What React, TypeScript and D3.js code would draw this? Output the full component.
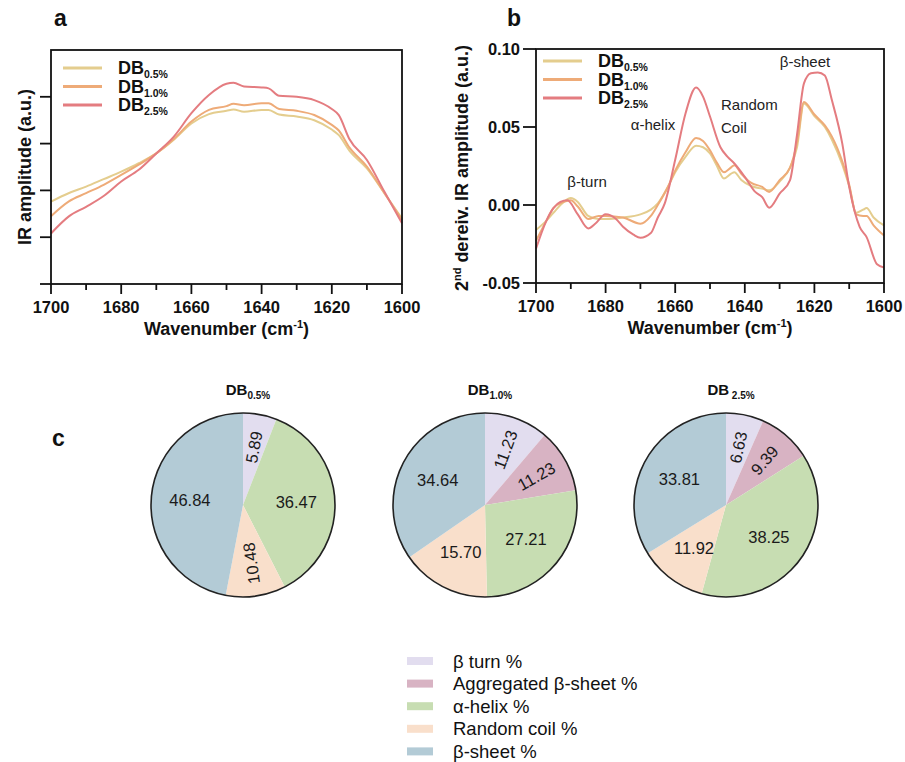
import React from "react";
import * as d3 from "d3";

const FONT = "'Liberation Sans', Arial, Helvetica, sans-serif";

// ---------- Panel a data (IR amplitude, arbitrary units) ----------
const aWave = [1700, 1695, 1690, 1685, 1680, 1675, 1670, 1665, 1660, 1655, 1650, 1648, 1645, 1640, 1638, 1635, 1630, 1625, 1620, 1618, 1615, 1610, 1605, 1600];
const aDB05 = [1.76, 1.94, 2.08, 2.24, 2.40, 2.58, 2.79, 3.08, 3.43, 3.63, 3.70, 3.73, 3.68, 3.72, 3.72, 3.62, 3.58, 3.50, 3.30, 3.18, 2.85, 2.47, 1.94, 1.40];
const aDB10 = [1.45, 1.76, 1.94, 2.12, 2.33, 2.55, 2.79, 3.10, 3.47, 3.72, 3.80, 3.85, 3.82, 3.86, 3.86, 3.74, 3.70, 3.61, 3.40, 3.28, 2.92, 2.51, 1.94, 1.37];
const aDB25 = [1.08, 1.44, 1.65, 1.88, 2.19, 2.44, 2.79, 3.15, 3.65, 4.04, 4.28, 4.30, 4.22, 4.20, 4.18, 4.02, 4.00, 3.93, 3.74, 3.61, 3.10, 2.65, 1.97, 1.30];
const aYTicks = [0, 1, 2, 3, 4];

// ---------- Panel b data (2nd derivative) ----------
const bDB05: [number, number][] = [[1700, -0.016], [1697, -0.010], [1695, -0.005], [1692, 0.002], [1690, 0.0045], [1688, 0.002], [1685, -0.007], [1682, -0.009], [1680, -0.009], [1675, -0.008], [1670, -0.006], [1667, -0.003], [1665, 0.001], [1662, 0.012], [1660, 0.021], [1657, 0.031], [1654, 0.038], [1652, 0.037], [1650, 0.033], [1648, 0.025], [1646, 0.017], [1644, 0.020], [1643, 0.021], [1641, 0.016], [1638, 0.012], [1635, 0.0105], [1633, 0.0094], [1630, 0.015], [1627, 0.024], [1625, 0.037], [1623, 0.065], [1620, 0.057], [1617, 0.050], [1615, 0.042], [1612, 0.026], [1610, 0.012], [1608, -0.005], [1606, -0.003], [1605, -0.002], [1603, -0.008], [1600, -0.013]];
const bDB10: [number, number][] = [[1700, -0.023], [1697, -0.010], [1695, -0.002], [1692, 0.002], [1690, 0.003], [1688, -0.001], [1685, -0.009], [1682, -0.007], [1680, -0.007], [1675, -0.008], [1670, -0.012], [1667, -0.007], [1665, 0.000], [1662, 0.012], [1660, 0.022], [1657, 0.034], [1654, 0.043], [1652, 0.041], [1650, 0.035], [1648, 0.027], [1646, 0.021], [1644, 0.024], [1643, 0.0255], [1641, 0.020], [1638, 0.014], [1635, 0.0116], [1633, 0.0084], [1630, 0.016], [1627, 0.024], [1625, 0.040], [1623, 0.066], [1620, 0.058], [1617, 0.051], [1615, 0.044], [1612, 0.028], [1610, 0.013], [1608, -0.006], [1606, -0.007], [1605, -0.007], [1603, -0.013], [1600, -0.0195]];
const bDB25: [number, number][] = [[1700, -0.028], [1697, -0.010], [1695, -0.002], [1693, 0.002], [1691, 0.003], [1688, -0.006], [1685, -0.015], [1683, -0.012], [1680, -0.006], [1677, -0.009], [1675, -0.014], [1672, -0.019], [1670, -0.021], [1667, -0.018], [1665, -0.008], [1663, 0.001], [1660, 0.029], [1657, 0.059], [1654, 0.0753], [1652, 0.0695], [1650, 0.0567], [1647, 0.037], [1645, 0.031], [1643, 0.0266], [1640, 0.018], [1637, 0.0084], [1635, 0.005], [1633, -0.0017], [1630, 0.0073], [1627, 0.016], [1625, 0.045], [1623, 0.078], [1621, 0.0845], [1619, 0.085], [1617, 0.083], [1615, 0.0674], [1612, 0.0395], [1610, 0.0116], [1607, -0.014], [1605, -0.0206], [1602, -0.038], [1600, -0.040]];
const bYTicks = [-0.05, 0, 0.05, 0.1];
const bYTickLabels = ["-0.05", "0.00", "0.05", "0.10"];

const xMajorTicks = [1700, 1680, 1660, 1640, 1620, 1600];
const xMinorTicks = [1690, 1670, 1650, 1630, 1610];

const seriesNames = ["DB", "DB", "DB"];
const seriesSubs = ["0.5%", "1.0%", "2.5%"];
const seriesColors = ["#e4cd8e", "#eeab78", "#e47c80"];

// ---------- Panel c data (secondary structure %) ----------
const structureNames = ["β turn %", "Aggregated β-sheet %", "α-helix %", "Random coil %", "β-sheet %"];
const structureColors = ["#e2ddef", "#d8b3c3", "#c7ddb2", "#f9dfcb", "#b3cbd6"];
const pieTitles = ["0.5%", "1.0%", " 2.5%"];
const pie05 = [5.89, 0, 36.47, 10.48, 46.84];
const pie10 = [11.23, 11.23, 27.21, 15.70, 34.64];
const pie25 = [6.63, 9.39, 38.25, 11.92, 33.81];
const pieLabels05 = ["5.89", "", "36.47", "10.48", "46.84"];
const pieLabels10 = ["11.23", "11.23", "27.21", "15.70", "34.64"];
const pieLabels25 = ["6.63", "9.39", "38.25", "11.92", "33.81"];

type PanelProps = {
  left: number; right: number; top: number; bottom: number;
  yDomain: [number, number];
  yTicks: number[];
  yTickLabels?: string[];
  yTickLen: number;
  lines: [number, number][][];
  legendX: number; legendY: number;
};

function SpectrumPanel(p: PanelProps) {
  const x = d3.scaleLinear().domain([1700, 1600]).range([p.left, p.right]);
  const y = d3.scaleLinear().domain(p.yDomain).range([p.bottom, p.top]);
  const line = d3.line<[number, number]>().x(d => x(d[0])).y(d => y(d[1])).curve(d3.curveMonotoneX);
  return (
    <g>
      {p.lines.map((pts, i) => (
        <path key={i} d={line(pts) || ""} fill="none" stroke={seriesColors[i]} strokeWidth={2} />
      ))}
      {/* box */}
      <rect x={p.left} y={p.top} width={p.right - p.left} height={p.bottom - p.top} fill="none" stroke="#111" strokeWidth={1.8} />
      {/* y ticks */}
      {p.yTicks.map((t, i) => (
        <g key={"y" + i}>
          <line x1={p.left - p.yTickLen} x2={p.left} y1={y(t)} y2={y(t)} stroke="#111" strokeWidth={1.8} />
          {p.yTickLabels && (
            <text x={p.left - p.yTickLen - 3} y={y(t)} dy="0.36em" textAnchor="end" fontSize={16.5} fontWeight="bold" fontFamily={FONT} fill="#111">{p.yTickLabels[i]}</text>
          )}
        </g>
      ))}
      {/* x ticks */}
      {xMajorTicks.map(t => (
        <g key={"x" + t}>
          <line x1={x(t)} x2={x(t)} y1={p.bottom} y2={p.bottom + 10} stroke="#111" strokeWidth={1.8} />
          <text x={x(t)} y={p.bottom + 29} textAnchor="middle" fontSize={16.5} fontWeight="bold" fontFamily={FONT} fill="#111">{t}</text>
        </g>
      ))}
      {xMinorTicks.map(t => (
        <line key={"m" + t} x1={x(t)} x2={x(t)} y1={p.bottom} y2={p.bottom + 6} stroke="#111" strokeWidth={1.8} />
      ))}
      <text x={(p.left + p.right) / 2} y={p.bottom + 51} textAnchor="middle" fontSize={18} fontWeight="bold" fontFamily={FONT} fill="#111">
        Wavenumber (cm<tspan dy={-7} fontSize={11}>-1</tspan><tspan dy={7}>)</tspan>
      </text>
      {/* legend */}
      {seriesNames.map((n, i) => (
        <g key={"l" + i}>
          <line x1={p.legendX} x2={p.legendX + 39} y1={p.legendY + i * 18.5} y2={p.legendY + i * 18.5} stroke={seriesColors[i]} strokeWidth={3} />
          <text x={p.legendX + 55} y={p.legendY + i * 18.5 + 6} fontSize={18} fontWeight="bold" fontFamily={FONT} fill="#111">
            {n}<tspan dy={4} fontSize={10.5}>{seriesSubs[i]}</tspan>
          </text>
        </g>
      ))}
    </g>
  );
}

function PieChart({ cx, cy, r, values, labels, title }: { cx: number; cy: number; r: number; values: number[]; labels: string[]; title: string }) {
  const pie = d3.pie<number>().sort(null).value(d => d)(values);
  const arc = d3.arc<d3.PieArcDatum<number>>().innerRadius(0).outerRadius(r);
  const labelArc = d3.arc<d3.PieArcDatum<number>>().innerRadius(r * 0.58).outerRadius(r * 0.58);
  const rotArc = d3.arc<d3.PieArcDatum<number>>().innerRadius(r * 0.64).outerRadius(r * 0.64);
  return (
    <g>
      <text x={cx + 5} y={cy - 110} textAnchor="middle" fontSize={15} fontWeight="bold" fontFamily={FONT} fill="#111">
        DB<tspan dy={4} fontSize={10}>{title}</tspan>
      </text>
      <g transform={`translate(${cx},${cy})`}>
        {pie.map((s, i) => (
          <path key={i} d={arc(s) || ""} fill={structureColors[i]} stroke="none" />
        ))}
        <circle r={r} fill="none" stroke="#222" strokeWidth={1.6} />
        {pie.map((s, i) => {
          if (!labels[i]) return null;
          const rotated = s.data < 11.5;
          const [lx, ly] = (rotated ? rotArc : labelArc).centroid(s);
          let rot = 0;
          if (rotated) {
            const mid = ((s.startAngle + s.endAngle) / 2) * 180 / Math.PI;
            rot = mid - 90;
            if (rot > 0) rot -= 180;
          }
          return (
            <text key={"t" + i} transform={`translate(${lx},${ly}) rotate(${rot})`} textAnchor="middle" dy="0.36em" fontSize={16.5} fontFamily={FONT} fill="#1a1a1a">{labels[i]}</text>
          );
        })}
      </g>
    </g>
  );
}

export default function App() {
  return (
    <svg width={905} height={762} style={{ position: "absolute", left: 0, top: 0, background: "#fff" }} xmlns="http://www.w3.org/2000/svg">
      <rect width={905} height={762} fill="#fff" />
      {/* panel letters */}
      <text x={54} y={26} fontSize={23} fontWeight="bold" fontFamily={FONT} fill="#111">a</text>
      <text x={507} y={26} fontSize={23} fontWeight="bold" fontFamily={FONT} fill="#111">b</text>
      <text x={52} y={446} fontSize={23} fontWeight="bold" fontFamily={FONT} fill="#111">c</text>

      {/* panel a */}
      <SpectrumPanel left={51} right={402} top={50} bottom={284} yDomain={[0, 5]} yTicks={aYTicks} yTickLen={11}
        lines={[aDB05, aDB10, aDB25].map(vals => vals.map((v, i) => [aWave[i], v] as [number, number]))}
        legendX={63} legendY={68} />
      <text transform="translate(31,167) rotate(-90)" textAnchor="middle" fontSize={18} fontWeight="bold" fontFamily={FONT} fill="#111">IR amplitude (a.u.)</text>

      {/* panel b */}
      <SpectrumPanel left={536} right={884} top={49} bottom={283} yDomain={[-0.05, 0.1]} yTicks={bYTicks} yTickLabels={bYTickLabels} yTickLen={13}
        lines={[bDB05, bDB10, bDB25]} legendX={543} legendY={61} />
      <text transform="translate(468,168) rotate(-90)" textAnchor="middle" fontSize={18} fontWeight="bold" fontFamily={FONT} fill="#111">
        2<tspan dy={-7} fontSize={11}>nd</tspan><tspan dy={7}> dereiv. IR amplitude (a.u.)</tspan>
      </text>
      <g fontSize={15} fontFamily={FONT} fill="#222">
        <text x={587} y={187} textAnchor="middle">β-turn</text>
        <text x={653} y={130} textAnchor="middle">α-helix</text>
        <text x={721} y={110}>Random</text>
        <text x={721} y={133}>Coil</text>
        <text x={805} y={67} textAnchor="middle">β-sheet</text>
      </g>

      {/* panel c */}
      <PieChart cx={243} cy={505} r={92} values={pie05} labels={pieLabels05} title={pieTitles[0]} />
      <PieChart cx={485} cy={505} r={92} values={pie10} labels={pieLabels10} title={pieTitles[1]} />
      <PieChart cx={726} cy={505} r={92} values={pie25} labels={pieLabels25} title={pieTitles[2]} />

      {/* legend c */}
      {structureNames.map((n, i) => (
        <g key={n}>
          <rect x={407} y={657 + i * 22.6} width={26} height={8} fill={structureColors[i]} />
          <text x={453} y={661 + i * 22.6} dy="0.36em" fontSize={18.5} fontFamily={FONT} fill="#111">{n}</text>
        </g>
      ))}
    </svg>
  );
}
